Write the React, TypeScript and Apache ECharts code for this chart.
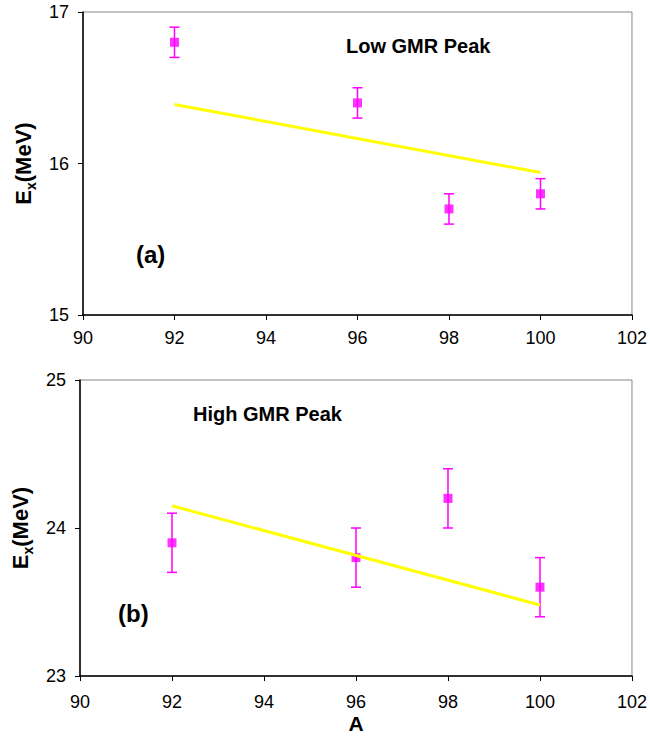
import React, { useEffect, useRef } from "react";
import * as echarts from "echarts";

const massNumbers = [92, 96, 98, 100];
const lowPeak = [16.8, 16.4, 15.7, 15.8];
const lowErr = [0.1, 0.1, 0.1, 0.1];
const highPeak = [23.9, 23.8, 24.2, 23.6];
const highErr = [0.2, 0.2, 0.2, 0.2];
const fitX = [92, 100];
const lowFit = [16.39, 15.94];
const highFit = [24.15, 23.48];
const xTicks = { min: 90, max: 102, interval: 2 };
const lowY = { min: 15, max: 17, interval: 1 };
const highY = { min: 23, max: 25, interval: 1 };

const FONT = "'Liberation Sans', Arial, sans-serif";
const MAGENTA = "#ff00ff";

function errRender(params: any, api: any) {
  const x = api.value(0);
  const lo = api.value(1);
  const hi = api.value(2);
  const pLo = api.coord([x, lo]);
  const pHi = api.coord([x, hi]);
  const cap = 5;
  const st = { stroke: MAGENTA, lineWidth: 1.5 };
  return {
    type: "group",
    children: [
      { type: "line", shape: { x1: pLo[0], y1: pLo[1], x2: pHi[0], y2: pHi[1] }, style: st },
      { type: "line", shape: { x1: pLo[0] - cap, y1: pLo[1], x2: pLo[0] + cap, y2: pLo[1] }, style: st },
      { type: "line", shape: { x1: pHi[0] - cap, y1: pHi[1], x2: pHi[0] + cap, y2: pHi[1] }, style: st },
    ],
  };
}

function xAxisCfg(gridIndex: number, withName: boolean, margin: number) {
  return {
    type: "value",
    gridIndex,
    ...xTicks,
    name: withName ? "A" : "",
    nameLocation: "middle",
    nameGap: 37,
    nameTextStyle: { fontFamily: FONT, fontSize: 21, fontWeight: "bold", color: "#000" },
    axisLine: { show: true, onZero: false, lineStyle: { color: "#000", width: 1.5 } },
    axisTick: { show: true, length: 5, lineStyle: { color: "#000" } },
    axisLabel: { fontFamily: FONT, fontSize: 18, color: "#000", margin },
    splitLine: { show: false },
  };
}

function yAxisCfg(gridIndex: number, range: any) {
  return {
    type: "value",
    gridIndex,
    ...range,
    name: "{m|E}{s|x}{m|(MeV)}",
    nameLocation: "middle",
    nameGap: 48,
    nameRotate: 90,
    nameTextStyle: {
      rich: {
        m: { fontFamily: FONT, fontSize: 22, fontWeight: "bold", color: "#000", lineHeight: 26, verticalAlign: "bottom" },
        s: { fontFamily: FONT, fontSize: 14, fontWeight: "bold", color: "#000", lineHeight: 26, verticalAlign: "bottom", padding: [0, 0, -4, 0] },
      },
    },
    axisLine: { show: true, onZero: false, lineStyle: { color: "#000", width: 1.5 } },
    axisTick: { show: true, length: 5, lineStyle: { color: "#000" } },
    axisLabel: { fontFamily: FONT, fontSize: 18, color: "#000", margin: 14 },
    splitLine: { show: false },
  };
}

export default function App() {
  const ref = useRef<HTMLDivElement>(null);
  useEffect(() => {
    document.body.style.margin = "0";
    const chart = echarts.init(ref.current!, null, { renderer: "svg" });
    const lowErrData = massNumbers.map((x, i) => [x, lowPeak[i] - lowErr[i], lowPeak[i] + lowErr[i]]);
    const highErrData = massNumbers.map((x, i) => [x, highPeak[i] - highErr[i], highPeak[i] + highErr[i]]);
    chart.setOption({
      animation: false,
      backgroundColor: "#fff",
      grid: [
        { left: 83, top: 12, width: 552, height: 303, show: true, borderColor: "#888", borderWidth: 1, backgroundColor: "transparent" },
        { left: 80, top: 380, width: 553, height: 296, show: true, borderColor: "#888", borderWidth: 1, backgroundColor: "transparent" },
      ],
      xAxis: [xAxisCfg(0, false, 14), xAxisCfg(1, true, 17)],
      yAxis: [yAxisCfg(0, lowY), yAxisCfg(1, highY)],
      graphic: [
        { type: "text", left: 346, top: 36, style: { text: "Low GMR Peak", fontFamily: FONT, fontSize: 20, fontWeight: "bold", fill: "#000" } },
        { type: "text", left: 136, top: 242, style: { text: "(a)", fontFamily: FONT, fontSize: 24, fontWeight: "bold", fill: "#000" } },
        { type: "text", left: 193, top: 404, style: { text: "High GMR Peak", fontFamily: FONT, fontSize: 20, fontWeight: "bold", fill: "#000" } },
        { type: "text", left: 118, top: 601, style: { text: "(b)", fontFamily: FONT, fontSize: 24, fontWeight: "bold", fill: "#000" } },
      ],
      series: [
        {
          type: "line", xAxisIndex: 0, yAxisIndex: 0, symbol: "none",
          lineStyle: { color: "#ffff00", width: 3 },
          data: fitX.map((x, i) => [x, lowFit[i]]),
        },
        {
          type: "line", xAxisIndex: 1, yAxisIndex: 1, symbol: "none",
          lineStyle: { color: "#ffff00", width: 3 },
          data: fitX.map((x, i) => [x, highFit[i]]),
        },
        { type: "custom", xAxisIndex: 0, yAxisIndex: 0, renderItem: errRender, data: lowErrData, encode: { x: 0, y: [1, 2] } },
        { type: "custom", xAxisIndex: 1, yAxisIndex: 1, renderItem: errRender, data: highErrData, encode: { x: 0, y: [1, 2] } },
        {
          type: "scatter", xAxisIndex: 0, yAxisIndex: 0, symbol: "rect", symbolSize: 9,
          itemStyle: { color: MAGENTA }, data: massNumbers.map((x, i) => [x, lowPeak[i]]),
        },
        {
          type: "scatter", xAxisIndex: 1, yAxisIndex: 1, symbol: "rect", symbolSize: 9,
          itemStyle: { color: MAGENTA }, data: massNumbers.map((x, i) => [x, highPeak[i]]),
        },
      ],
    });
    return () => chart.dispose();
  }, []);
  return <div ref={ref} style={{ width: 650, height: 742 }} />;
}
